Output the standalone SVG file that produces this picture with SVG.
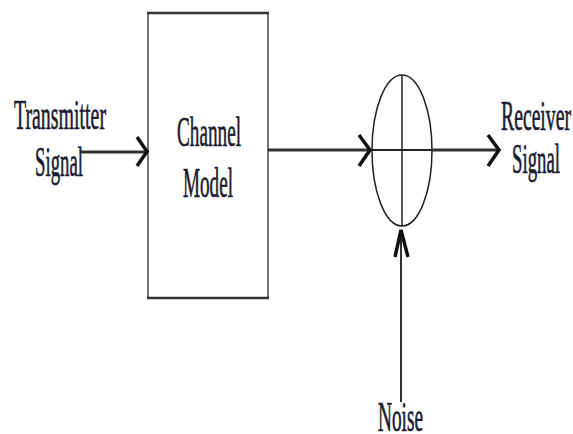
<svg xmlns="http://www.w3.org/2000/svg" width="573" height="434" viewBox="0 0 573 434">
<style>
.lbl{font-family:"Liberation Serif","Times New Roman",serif;font-size:42px;fill:#1c1c30;stroke:#1c1c30;stroke-width:0.7px;}
.ln{stroke:#333;fill:none;stroke-width:3;}
.hd{stroke:#111;fill:none;stroke-width:3.5;stroke-linejoin:miter;}
.thin{stroke:#333;fill:none;stroke-width:2;}
</style>
<rect width="573" height="434" fill="#fff"/>
<g id="transmitter">
<text class="lbl" x="14" y="129" textLength="92" lengthAdjust="spacingAndGlyphs">Transmitter</text>
<text class="lbl" x="35" y="176" textLength="48" lengthAdjust="spacingAndGlyphs">Signal</text>
</g>
<g id="channel">
<line x1="148" y1="13" x2="148" y2="298" stroke="#444" stroke-width="1.5"/>
<line x1="268" y1="13" x2="268" y2="298" stroke="#444" stroke-width="1.5"/>
<line x1="147" y1="13" x2="269" y2="13" stroke="#333" stroke-width="2.5"/>
<line x1="147" y1="298" x2="269" y2="298" stroke="#333" stroke-width="2.5"/>
<text class="lbl" x="177" y="146" textLength="64" lengthAdjust="spacingAndGlyphs">Channel</text>
<text class="lbl" x="183" y="197" textLength="50" lengthAdjust="spacingAndGlyphs">Model</text>
</g>
<g id="sum">
<ellipse cx="402" cy="150.5" rx="30" ry="75.5" stroke="#222" stroke-width="1.5" fill="none"/>
<line x1="402" y1="75" x2="402" y2="226" stroke="#222" stroke-width="1.5"/>
<line x1="372" y1="150" x2="432" y2="150" stroke="#222" stroke-width="2"/>
</g>
<g id="receiver">
<text class="lbl" x="501" y="130" textLength="70" lengthAdjust="spacingAndGlyphs">Receiver</text>
<text class="lbl" x="512" y="173" textLength="48" lengthAdjust="spacingAndGlyphs">Signal</text>
</g>
<g id="noise">
<text class="lbl" x="378" y="431" textLength="45" lengthAdjust="spacingAndGlyphs">Noise</text>
</g>
<g id="connectors">
<line class="ln" x1="80" y1="152" x2="146" y2="152"/>
<polyline class="hd" points="137,137 147,151.5 137,166"/>
<line class="ln" x1="268" y1="150" x2="370" y2="150"/>
<polyline class="hd" points="359,135 370,150 359,166"/>
<line class="ln" x1="432" y1="150" x2="498" y2="150"/>
<polyline class="hd" points="488,135 499,150 488,166"/>
<line class="thin" x1="401" y1="402" x2="401" y2="230"/>
<polyline class="hd" points="395,257 401,230 408,257"/>
</g>
</svg>
